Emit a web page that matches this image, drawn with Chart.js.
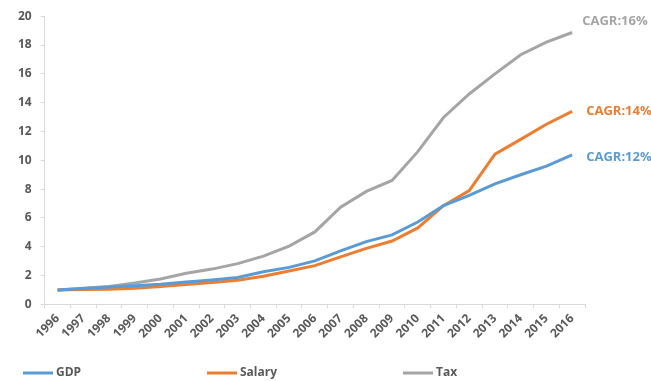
<!DOCTYPE html>
<html>
<head>
<meta charset="utf-8">
<script src="https://cdn.jsdelivr.net/npm/chart.js@4"></script>
<style>
  html, body { margin: 0; padding: 0; background: #fff; }
  #wrap { width: 651px; height: 381px; }
</style>
</head>
<body>
<div id="wrap"><canvas id="chart"></canvas></div>
<script>
var years = ['1996','1997','1998','1999','2000','2001','2002','2003','2004','2005','2006',
             '2007','2008','2009','2010','2011','2012','2013','2014','2015','2016'];
var gdp    = [1.0, 1.1, 1.2, 1.3, 1.4, 1.55, 1.7, 1.87, 2.27, 2.57, 3.02, 3.72, 4.36, 4.82, 5.72, 6.85, 7.56, 8.37, 9.0, 9.6, 10.37];
var salary = [1.0, 1.03, 1.05, 1.12, 1.24, 1.38, 1.52, 1.67, 1.95, 2.32, 2.69, 3.3, 3.89, 4.4, 5.31, 6.85, 7.9, 10.43, 11.45, 12.5, 13.4];
var tax    = [1.0, 1.12, 1.25, 1.48, 1.77, 2.16, 2.45, 2.83, 3.35, 4.05, 5.03, 6.75, 7.84, 8.6, 10.6, 12.97, 14.6, 16.0, 17.33, 18.2, 18.87];
var cagrLabels = ['CAGR:12%', 'CAGR:14%', 'CAGR:16%'];

var colors = { gdp: '#5B9BD5', salary: '#ED7D31', tax: '#A5A5A5' };
var fontFamily = "'Open Sans', 'Liberation Sans', sans-serif";

// CAGR labels at the end of each line
var endLabels = {
  id: 'endLabels',
  afterDatasetsDraw: function(chart) {
    var ctx = chart.ctx;
    ctx.save();
    ctx.font = 'bold 13px ' + fontFamily;
    ctx.textBaseline = 'middle';
    ctx.textAlign = 'left';
    var offsets = [[14, 2], [14, 0], [10, -11]];
    chart.data.datasets.forEach(function(ds, i) {
      var pts = chart.getDatasetMeta(i).data;
      var p = pts[pts.length - 1];
      ctx.fillStyle = ds.borderColor;
      ctx.fillText(cagrLabels[i], p.x + offsets[i][0], p.y + offsets[i][1]);
    });
    ctx.restore();
  }
};

// spread-out legend along the bottom, like the Excel original
var bottomLegend = {
  id: 'bottomLegend',
  afterDraw: function(chart) {
    var ctx = chart.ctx;
    var starts = [23, 207, 403];
    var y = 373;
    ctx.save();
    ctx.font = 'bold 12px ' + fontFamily;
    ctx.textBaseline = 'middle';
    ctx.textAlign = 'left';
    chart.data.datasets.forEach(function(ds, i) {
      ctx.strokeStyle = ds.borderColor;
      ctx.lineWidth = 3;
      ctx.beginPath();
      ctx.moveTo(starts[i], y);
      ctx.lineTo(starts[i] + 30, y);
      ctx.stroke();
      ctx.fillStyle = '#595959';
      ctx.fillText(ds.label, starts[i] + 33, y);
    });
    ctx.restore();
  }
};

var ctx = document.getElementById('chart');
new Chart(ctx, {
  type: 'line',
  data: {
    labels: years,
    datasets: [
      { label: 'GDP', data: gdp, borderColor: colors.gdp, backgroundColor: colors.gdp },
      { label: 'Salary', data: salary, borderColor: colors.salary, backgroundColor: colors.salary },
      { label: 'Tax', data: tax, borderColor: colors.tax, backgroundColor: colors.tax }
    ]
  },
  options: {
    responsive: true,
    maintainAspectRatio: false,
    animation: false,
    elements: {
      line: { borderWidth: 3, tension: 0 },
      point: { radius: 0 }
    },
    layout: { padding: { top: 3, right: 66, left: 9, bottom: 37 } },
    plugins: {
      legend: { display: false },
      tooltip: { enabled: false }
    },
    scales: {
      x: {
        offset: true,
        grid: { display: true, drawOnChartArea: false, offset: true, color: '#D9D9D9', tickLength: 4 },
        border: { color: '#D9D9D9' },
        ticks: {
          minRotation: 45, maxRotation: 45, autoSkip: false,
          color: '#595959',
          font: { family: fontFamily, size: 12, weight: 'bold' }
        }
      },
      y: {
        min: 0, max: 20,
        grid: { display: true, drawOnChartArea: false, color: '#D9D9D9', tickLength: 4 },
        border: { color: '#D9D9D9' },
        ticks: {
          stepSize: 2, autoSkip: false, padding: 9,
          color: '#595959',
          font: { family: fontFamily, size: 12, weight: 'bold' }
        }
      }
    }
  },
  plugins: [endLabels, bottomLegend]
});
</script>
</body>
</html>
